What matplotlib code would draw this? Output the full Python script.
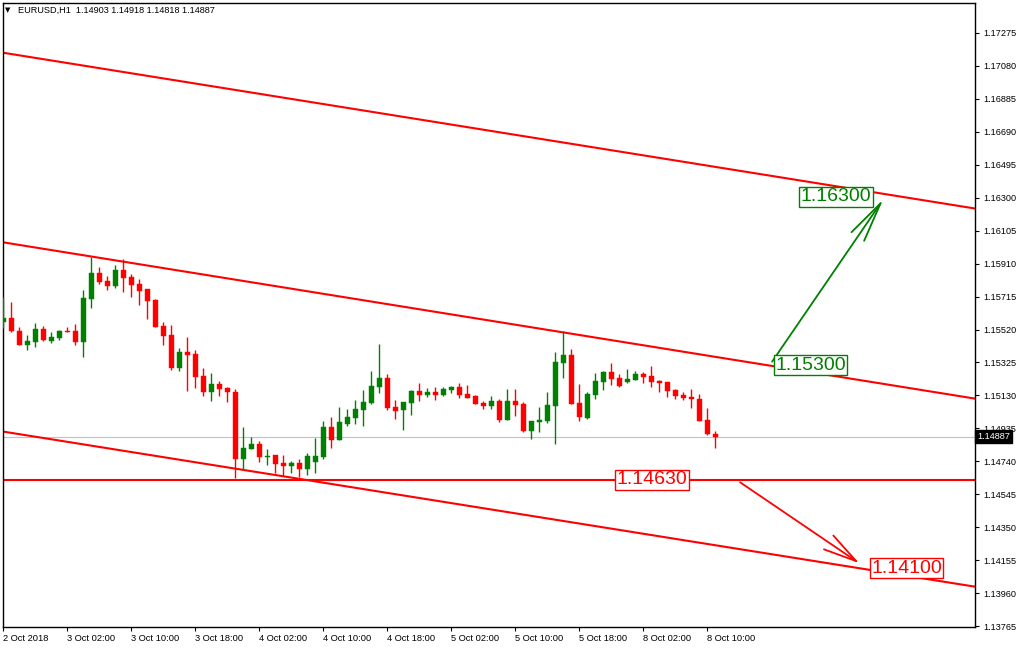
import matplotlib
matplotlib.use("Agg")
import matplotlib.pyplot as plt
import numpy as np

plt.rcParams['font.family'] = ['Liberation Sans', 'DejaVu Sans']

# ---------------- data ----------------
symbol_header = "EURUSD,H1  1.14903 1.14918 1.14818 1.14887"

opens = [1.15567, 1.15590, 1.15513, 1.15429, 1.15448, 1.15523, 1.15454, 1.15470, 1.15513, 1.15511,
         1.15448, 1.15703, 1.15856, 1.15807, 1.15780, 1.15872, 1.15833, 1.15790, 1.15760, 1.15695,
         1.15541, 1.15488, 1.15294, 1.15387, 1.15375, 1.15245, 1.15152, 1.15198, 1.15176, 1.15150,
         1.14754, 1.14815, 1.14843, 1.14768, 1.14778, 1.14730, 1.14714, 1.14730, 1.14697, 1.14738,
         1.14766, 1.14943, 1.14868, 1.14963, 1.14997, 1.15044, 1.15085, 1.15180, 1.15233, 1.15062,
         1.15044, 1.15085, 1.15156, 1.15133, 1.15150, 1.15133, 1.15162, 1.15180, 1.15139, 1.15127,
         1.15085, 1.15068, 1.15097, 1.14985, 1.15097, 1.15079, 1.14920, 1.14973, 1.14979, 1.15068,
         1.15322, 1.15369, 1.15085, 1.14997, 1.15133, 1.15210, 1.15269, 1.15233, 1.15210, 1.15222,
         1.15257, 1.15245, 1.15216, 1.15210, 1.15162, 1.15133, 1.15121, 1.15109, 1.14985, 1.14903]

highs = [1.15714, 1.15685, 1.15537, 1.15488, 1.15561, 1.15543, 1.15507, 1.15517, 1.15537, 1.15555,
         1.15754, 1.15951, 1.15892, 1.15839, 1.15902, 1.15938, 1.15849, 1.15819, 1.15761, 1.15701,
         1.15565, 1.15547, 1.15409, 1.15474, 1.15399, 1.15291, 1.15261, 1.15216, 1.15182, 1.15166,
         1.14943, 1.14884, 1.14860, 1.14813, 1.14779, 1.14778, 1.14742, 1.14754, 1.14789, 1.14878,
         1.14979, 1.15001, 1.15062, 1.15050, 1.15103, 1.15162, 1.15275, 1.15435, 1.15257, 1.15103,
         1.15093, 1.15162, 1.15204, 1.15174, 1.15180, 1.15180, 1.15186, 1.15204, 1.15192, 1.15133,
         1.15097, 1.15127, 1.15109, 1.15168, 1.15168, 1.15091, 1.14979, 1.15062, 1.15150, 1.15387,
         1.15511, 1.15405, 1.15198, 1.15150, 1.15263, 1.15275, 1.15322, 1.15257, 1.15287, 1.15275,
         1.15269, 1.15304, 1.15222, 1.15211, 1.15168, 1.15150, 1.15168, 1.15139, 1.15056, 1.14918]

lows = [1.15527, 1.15507, 1.15428, 1.15399, 1.15415, 1.15452, 1.15440, 1.15458, 1.15506, 1.15429,
        1.15359, 1.15649, 1.15790, 1.15754, 1.15766, 1.15744, 1.15714, 1.15665, 1.15583, 1.15535,
        1.15429, 1.15281, 1.15277, 1.15158, 1.15174, 1.15127, 1.15099, 1.15129, 1.15093, 1.14640,
        1.14695, 1.14813, 1.14738, 1.14718, 1.14669, 1.14655, 1.14673, 1.14647, 1.14661, 1.14673,
        1.14756, 1.14821, 1.14866, 1.14951, 1.14963, 1.14949, 1.15079, 1.15145, 1.15044, 1.14991,
        1.14926, 1.15014, 1.15097, 1.15121, 1.15103, 1.15127, 1.15145, 1.15115, 1.15115, 1.15078,
        1.15050, 1.15050, 1.14973, 1.14984, 1.15008, 1.14914, 1.14872, 1.14914, 1.14967, 1.14843,
        1.15233, 1.15078, 1.14979, 1.14991, 1.15109, 1.15162, 1.15192, 1.15180, 1.15204, 1.15220,
        1.15204, 1.15180, 1.15150, 1.15121, 1.15109, 1.15103, 1.15056, 1.14977, 1.14896, 1.14818]

closes = [1.15590, 1.15509, 1.15429, 1.15452, 1.15523, 1.15458, 1.15476, 1.15513, 1.15508, 1.15448,
          1.15709, 1.15856, 1.15803, 1.15780, 1.15872, 1.15827, 1.15784, 1.15748, 1.15691, 1.15537,
          1.15484, 1.15294, 1.15387, 1.15371, 1.15241, 1.15152, 1.15198, 1.15170, 1.15152, 1.14754,
          1.14819, 1.14843, 1.14768, 1.14772, 1.14724, 1.14714, 1.14730, 1.14697, 1.14772, 1.14772,
          1.14943, 1.14868, 1.14973, 1.15003, 1.15050, 1.15091, 1.15186, 1.15233, 1.15056, 1.15038,
          1.15091, 1.15156, 1.15133, 1.15150, 1.15133, 1.15168, 1.15180, 1.15133, 1.15116, 1.15079,
          1.15068, 1.15097, 1.14985, 1.15097, 1.15074, 1.14920, 1.14977, 1.14985, 1.15074, 1.15328,
          1.15369, 1.15079, 1.15003, 1.15139, 1.15216, 1.15269, 1.15227, 1.15186, 1.15227, 1.15257,
          1.15239, 1.15210, 1.15204, 1.15156, 1.15127, 1.15116, 1.15109, 1.14979, 1.14902, 1.14887]

time_labels = ['2 Oct 2018', '3 Oct 02:00', '3 Oct 10:00', '3 Oct 18:00', '4 Oct 02:00',
               '4 Oct 10:00', '4 Oct 18:00', '5 Oct 02:00', '5 Oct 10:00', '5 Oct 18:00',
               '8 Oct 02:00', '8 Oct 10:00']
time_label_bars = [0, 8, 16, 24, 32, 40, 48, 56, 64, 72, 80, 88]

price_ticks = [1.17275, 1.17080, 1.16885, 1.16690, 1.16495, 1.16300, 1.16105, 1.15910, 1.15715,
               1.15520, 1.15325, 1.15130, 1.14935, 1.14740, 1.14545, 1.14350, 1.14155, 1.13960,
               1.13765]

current_price = 1.14887
support_level = 1.14630

# channel lines: (bar index, price) anchors
channel_bars = [0, 121.5]
channel_top = [1.17158, 1.16236]
channel_mid = [1.16036, 1.15111]
channel_bot = [1.14916, 1.13998]

# arrows: start / tip (bar index, price)
up_arrow_bars = [96.1, 110.0]
up_arrow_prices = [1.15330, 1.16291]
down_arrow_bars = [92.1, 107.0]
down_arrow_prices = [1.14616, 1.14137]

# target labels
label_texts = ['1.16300', '1.15300', '1.14630', '1.14100']
label_bars = [104.1, 100.9, 81.1, 112.9]
label_prices = [1.16306, 1.15308, 1.14630, 1.14107]
label_colors = ['#008000', '#008000', '#FF0000', '#FF0000']

# ---------------- figure ----------------
W, H = 1017, 649
fig = plt.figure(figsize=(W / 100, H / 100), dpi=100)
ax = fig.add_axes([3 / W, 22 / H, 972 / W, 624 / H])

GREEN = '#008000'
RED = '#FF0000'

ax.set_xlim(-0.04, 121.46)
ax.set_ylim(1.137597, 1.174525)

# gray current price line
ax.axhline(current_price, color='#C0C0C0', lw=0.8, zorder=1)

# candles
o = np.array(opens); h = np.array(highs); l = np.array(lows); c = np.array(closes)
x = np.arange(len(o))
cols = np.where(c >= o, GREEN, RED)
ax.vlines(x, l, h, colors=cols, lw=1.0, zorder=3)
body_low = np.minimum(o, c)
body_h = np.maximum(np.abs(c - o), 0.00005)
ax.bar(x, body_h, bottom=body_low, width=0.62, color=cols, edgecolor=cols, lw=0.3, zorder=3)

# channel lines
for ys in (channel_top, channel_mid, channel_bot):
    ax.axline((channel_bars[0], ys[0]), (channel_bars[1], ys[1]), color=RED, lw=1.5, zorder=2)
ax.axhline(support_level, color=RED, lw=1.5, zorder=2)

# arrows
ax.annotate('', xy=(up_arrow_bars[1], up_arrow_prices[1]),
            xytext=(up_arrow_bars[0], up_arrow_prices[0]),
            arrowprops=dict(arrowstyle='->,head_length=2.9,head_width=0.55', color=GREEN,
                            lw=1.3, shrinkA=0, shrinkB=0, mutation_scale=10), zorder=4)
ax.annotate('', xy=(down_arrow_bars[1], down_arrow_prices[1]),
            xytext=(down_arrow_bars[0], down_arrow_prices[0]),
            arrowprops=dict(arrowstyle='->,head_length=2.4,head_width=0.6', color=RED,
                            lw=1.3, shrinkA=0, shrinkB=0, mutation_scale=10), zorder=4)

# labels
for t, bx, py, col in zip(label_texts, label_bars, label_prices, label_colors):
    ax.text(bx, py, t, color=col, fontsize=14, ha='center', va='center', zorder=5,
            bbox=dict(boxstyle='square,pad=0.08', facecolor='white', edgecolor=col, lw=1.0))

# axes styling
for s in ax.spines.values():
    s.set_color('black')
    s.set_linewidth(1.0)

ax.yaxis.tick_right()
ax.set_yticks(price_ticks)
ax.set_yticklabels([f'{v:.5f}' for v in price_ticks])
ax.tick_params(axis='y', direction='out', length=3, width=0.8, pad=3, labelsize=6.6,
               colors='black')

ax.set_xticks(time_label_bars)
ax.set_xticklabels(time_labels)
ax.tick_params(axis='x', direction='out', length=3, width=0.8, pad=2, labelsize=6.7,
               colors='black')
for lab in ax.get_xticklabels():
    lab.set_ha('left')

# current price tag on the axis
ax.text(1.002, current_price, f'{current_price:.5f}', transform=ax.get_yaxis_transform(),
        color='white', fontsize=6.6, ha='left', va='center', zorder=6, clip_on=False,
        bbox=dict(boxstyle='square,pad=0.25', facecolor='black', edgecolor='black'))

# header
fig.text(5 / W, 1 - 10.5 / H, '\u25BC', fontsize=5, family='DejaVu Sans', ha='left', va='center')
fig.text(18 / W, 1 - 10.5 / H, symbol_header, fontsize=6.6, ha='left', va='center')

fig.savefig('out.png', dpi=100)
